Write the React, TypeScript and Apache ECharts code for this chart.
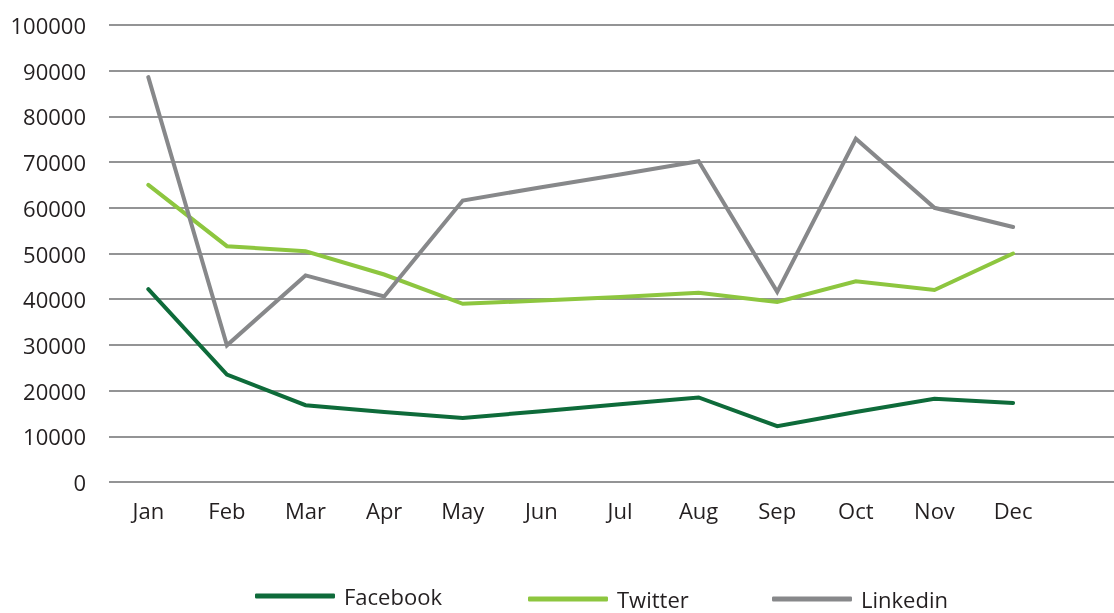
import React, { useEffect, useRef } from "react";
import * as echarts from "echarts";

const months = ["Jan", "Feb", "Mar", "Apr", "May", "Jun", "Jul", "Aug", "Sep", "Oct", "Nov", "Dec"];
const facebook = [42200, 23500, 16800, 15300, 14000, 15500, 17000, 18500, 12200, 15300, 18200, 17300];
const twitter = [65000, 51600, 50500, 45400, 39000, 39700, 40500, 41400, 39400, 43900, 42000, 50000];
const linkedin = [88600, 29900, 45200, 40600, 61600, 64500, 67300, 70200, 41600, 75100, 60000, 55800];
const yTicks = { min: 0, max: 100000, interval: 10000 };

const colors = { Facebook: "#0e6b3a", Twitter: "#8dc63f", Linkedin: "#87888a" };
const textColor = "#231f20";
const font = "'Open Sans', sans-serif";

export default function App() {
  const ref = useRef<HTMLDivElement>(null);
  useEffect(() => {
    if (!ref.current) return;
    const chart = echarts.init(ref.current, undefined, { renderer: "svg" });
    const mk = (name: string, data: number[]) => ({
      name,
      type: "line",
      data,
      symbol: "none",
      lineStyle: { width: 4, color: (colors as any)[name], cap: "round", join: "miter" },
      itemStyle: { color: (colors as any)[name] },
    });
    const legendItem = (name: string, left: number, top: number) => ({
      data: [name],
      left,
      top,
      padding: 0,
      icon: "roundRect",
      itemWidth: 80,
      itemHeight: 5,
      textStyle: { fontFamily: font, fontSize: 22, color: textColor, padding: [0, 0, 0, 4] },
    });
    chart.setOption({
      animation: false,
      grid: { left: 109, top: 25, width: 1022, height: 457 },
      xAxis: {
        type: "category",
        data: [...months, ""],
        boundaryGap: true,
        axisLine: { show: false },
        axisTick: { show: false },
        axisLabel: { fontFamily: font, fontSize: 22, color: textColor, margin: 17 },
      },
      yAxis: {
        type: "value",
        min: yTicks.min,
        max: yTicks.max,
        interval: yTicks.interval,
        axisLine: { show: false },
        axisTick: { show: false },
        axisLabel: {
          fontFamily: font,
          fontSize: 22,
          color: textColor,
          margin: 23,
          formatter: (v: number) => String(v),
        },
        splitLine: { lineStyle: { color: "#6f7072", width: 1.5 } },
      },
      legend: [
        legendItem("Facebook", 255, 585),
        legendItem("Twitter", 528, 588),
        legendItem("Linkedin", 772, 588),
      ],
      series: [mk("Facebook", facebook), mk("Twitter", twitter), mk("Linkedin", linkedin)],
    });
    return () => chart.dispose();
  }, []);
  return (
    <div style={{ position: "fixed", left: 0, top: 0, width: 1114, height: 613, overflow: "hidden" }}>
      <div ref={ref} style={{ width: 1140, height: 613 }} />
    </div>
  );
}
